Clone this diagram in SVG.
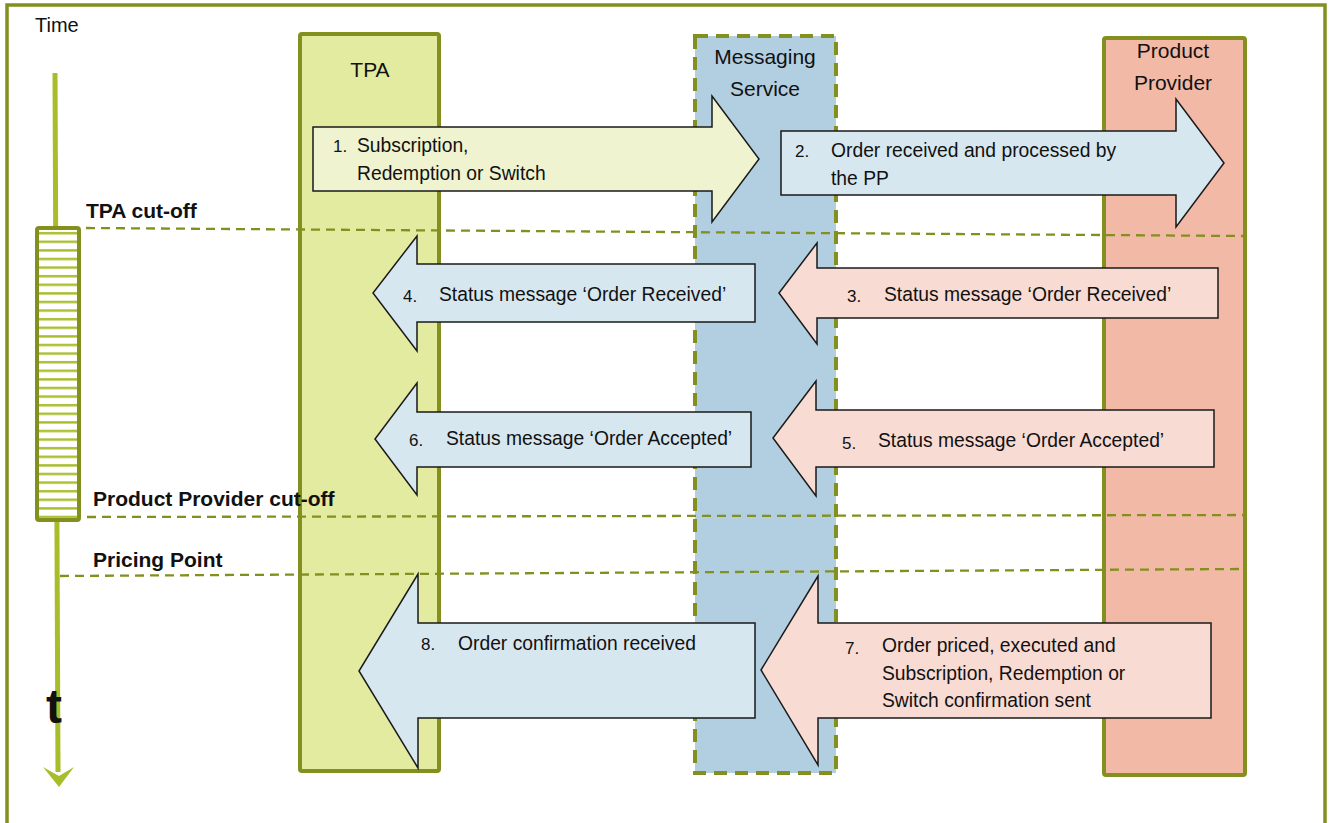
<svg xmlns="http://www.w3.org/2000/svg" width="1330" height="823" viewBox="0 0 1330 823">
<style>
text{font-family:"Liberation Sans",Arial,sans-serif;fill:#111}
.t{font-size:19.3px}
.h{font-size:21px;text-anchor:middle}
.b{font-size:21px;font-weight:bold}
.col{stroke:#83901f;stroke-width:4}
.cut{fill:none;stroke:#83901f;stroke-width:2.3;stroke-dasharray:9 6}
.arr{stroke:#1a1a1a;stroke-width:1.5;stroke-linejoin:miter}
.y{fill:#eff3cf}.bl{fill:#d7e7f0}.pk{fill:#f8dbd3}
</style>
<defs>
<pattern id="hatch" patternUnits="userSpaceOnUse" x="0" y="230" width="10" height="8.6">
<rect width="10" height="8.6" fill="#ffffff"/>
<rect y="2" width="10" height="2.4" fill="#a9bd2b"/>
</pattern>
</defs>
<rect width="1330" height="823" fill="#ffffff"/>
<rect id="frame" x="7" y="5" width="1318" height="840" fill="none" stroke="#83901f" stroke-width="3.5"/>
<g id="time-axis">
<text x="35" y="32" style="font-size:20px">Time</text>
<line x1="55" y1="73" x2="58" y2="772" stroke="#a9bc2a" stroke-width="5"/>
<polygon points="43,767 59,776 74,767 59,787" fill="#a9bc2a"/>
<text x="46" y="723" style="font-size:48px;font-weight:bold">t</text>
<rect id="window" x="37" y="228" width="42" height="292" rx="2" fill="url(#hatch)" stroke="#83901f" stroke-width="4"/>
</g>
<g id="col-tpa">
<rect class="col" x="300" y="34" width="139" height="737" rx="2" fill="#e3eba0"/>
<text class="h" x="370" y="77">TPA</text>
</g>
<g id="col-messaging">
<rect x="695" y="36" width="141" height="737" fill="#b1cfe1" stroke="#83901f" stroke-width="4" stroke-dasharray="13 8"/>
<text class="h" x="765" y="64">Messaging</text>
<text class="h" x="765" y="96">Service</text>
</g>
<g id="col-pp">
<rect class="col" x="1104" y="38" width="141" height="737" rx="2" fill="#f2b9a7"/>
<text class="h" x="1173" y="58">Product</text>
<text class="h" x="1173" y="90">Provider</text>
</g>
<g id="cutoffs">
<path class="cut" d="M86,228 L1243,236"/>
<path class="cut" d="M87,517 L1243,515"/>
<path class="cut" d="M60,576 L1240,569"/>
<text class="b" x="86" y="218">TPA cut-off</text>
<text class="b" x="93" y="506">Product Provider cut-off</text>
<text class="b" x="93" y="567">Pricing Point</text>
</g>
<g id="connectors">
<g id="msg1">
<polygon class="arr y" points="313,127 712,127 712,96 759,159 712,222 712,191 313,191"/>
<text class="t" x="333" y="152" style="font-size:17px">1.</text>
<text class="t" x="357" y="152">Subscription,</text>
<text class="t" x="357" y="180">Redemption or Switch</text>
</g>
<g id="msg2">
<polygon class="arr bl" points="781,131 1176,131 1176,99 1224,163 1176,227 1176,195 781,195"/>
<text class="t" x="795" y="157" style="font-size:17px">2.</text>
<text class="t" x="831" y="157">Order received and processed by</text>
<text class="t" x="831" y="185">the PP</text>
</g>
<g id="msg3">
<polygon class="arr pk" points="1218,268 817,268 817,243 779,293 817,344 817,318 1218,318"/>
<text class="t" x="847" y="302" style="font-size:17px">3.</text>
<text class="t" x="884" y="301">Status message ‘Order Received’</text>
</g>
<g id="msg4">
<polygon class="arr bl" points="755,264 417,264 417,236 373,293 417,351 417,322 755,322"/>
<text class="t" x="403" y="302" style="font-size:17px">4.</text>
<text class="t" x="439" y="301">Status message ‘Order Received’</text>
</g>
<g id="msg5">
<polygon class="arr pk" points="1214,410 816,410 816,381 773,438 816,496 816,467 1214,467"/>
<text class="t" x="842" y="449" style="font-size:17px">5.</text>
<text class="t" x="878" y="447">Status message ‘Order Accepted’</text>
</g>
<g id="msg6">
<polygon class="arr bl" points="751,412 417,412 417,383 375,439 417,495 417,467 751,467"/>
<text class="t" x="409" y="446" style="font-size:17px">6.</text>
<text class="t" x="446" y="445">Status message ‘Order Accepted’</text>
</g>
<g id="msg7">
<polygon class="arr pk" points="1211,623 818,623 818,576 761,670 818,765 818,718 1211,718"/>
<text class="t" x="845" y="654" style="font-size:17px">7.</text>
<text class="t" x="882" y="652">Order priced, executed and</text>
<text class="t" x="882" y="680">Subscription, Redemption or</text>
<text class="t" x="882" y="707">Switch confirmation sent</text>
</g>
<g id="msg8">
<polygon class="arr bl" points="755,623 418,623 418,574 359,671 418,768 418,718 755,718"/>
<text class="t" x="421" y="650" style="font-size:17px">8.</text>
<text class="t" x="458" y="650">Order confirmation received</text>
</g>
</g>
</svg>
